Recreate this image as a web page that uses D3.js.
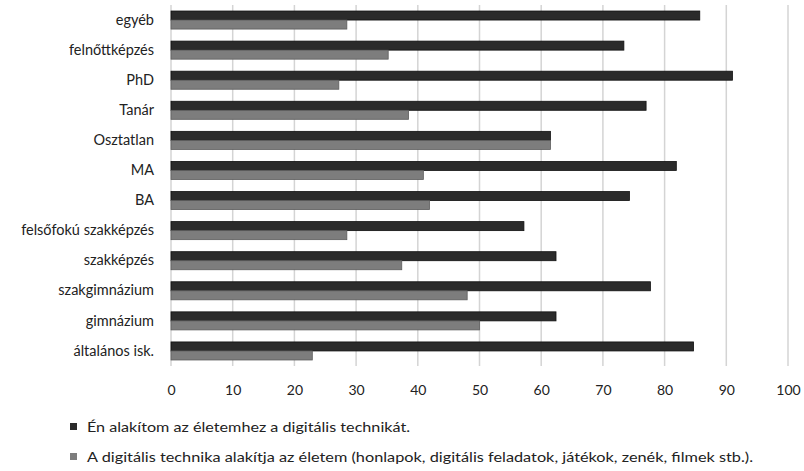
<!DOCTYPE html>
<html>
<head>
<meta charset="utf-8">
<script src="https://cdn.jsdelivr.net/npm/d3@7/dist/d3.min.js"></script>
<style>
  html, body { margin: 0; padding: 0; background: #fff; }
  svg { display: block; font-family: Lato, "Open Sans", sans-serif; }
</style>
</head>
<body>
<svg id="chart" width="804" height="471"></svg>
<script>
// Education levels, top to bottom
const categories = [
  "egyéb", "felnőttképzés", "PhD", "Tanár", "Osztatlan", "MA", "BA",
  "felsőfokú szakképzés", "szakképzés", "szakgimnázium", "gimnázium", "általános isk."
];
// "Én alakítom az életemhez a digitális technikát." (%)
const shapeTech = [85.7, 73.4, 91.0, 77.0, 61.5, 81.9, 74.3, 57.2, 62.4, 77.7, 62.4, 84.7];
// "A digitális technika alakítja az életem ..." (%)
const shapedByTech = [28.5, 35.2, 27.2, 38.5, 61.5, 40.9, 41.9, 28.5, 37.4, 48.0, 50.0, 22.9];
const xTicks = [0, 10, 20, 30, 40, 50, 60, 70, 80, 90, 100];
const seriesNames = [
  "Én alakítom az életemhez a digitális technikát.",
  "A digitális technika alakítja az életem (honlapok, digitális feladatok, játékok, zenék, filmek stb.)."
];
const seriesColors = ["#2b2b2b", "#7d7d7d"];
const seriesStroke = ["#111111", "#5c5c5c"];

const svg = d3.select("#chart");
const plot = { left: 171, right: 788, top: 5, bottom: 366 };
const textColor = "#222";

const x = d3.scaleLinear().domain([0, 100]).range([plot.left, plot.right]);
const y = d3.scaleBand().domain(categories).range([plot.top, plot.bottom])
  .paddingInner(0.4).paddingOuter(0.2);
const sub = d3.scaleBand().domain([0, 1]).range([0, y.bandwidth()]);

// vertical gridlines
svg.append("g")
  .selectAll("line")
  .data(xTicks)
  .join("line")
  .attr("x1", d => x(d)).attr("x2", d => x(d))
  .attr("y1", plot.top).attr("y2", plot.bottom)
  .attr("stroke", "#d4d4d4").attr("stroke-width", 1.5);

// bars
const series = [shapeTech, shapedByTech];
series.forEach((vals, si) => {
  svg.append("g")
    .selectAll("rect")
    .data(categories)
    .join("rect")
    .attr("x", x(0))
    .attr("y", (c) => y(c) + sub(si))
    .attr("width", (c, i) => x(vals[i]) - x(0))
    .attr("height", sub.bandwidth())
    .attr("fill", seriesColors[si])
    .attr("stroke", seriesStroke[si])
    .attr("stroke-width", 0.8);
});

// category labels
const yAxis = d3.axisLeft(y).tickSize(0).tickPadding(0);
const gy = svg.append("g").attr("transform", `translate(${plot.left - 17},0)`).call(yAxis);
gy.select(".domain").remove();
gy.selectAll("text")
  .attr("font-size", 14.5)
  .attr("font-family", "Lato, sans-serif")
  .attr("fill", textColor);

// value axis labels
const xAxis = d3.axisBottom(x).tickValues(xTicks).tickSize(0).tickPadding(0);
const gx = svg.append("g").attr("transform", `translate(0,${plot.bottom + 19})`).call(xAxis);
gx.select(".domain").remove();
gx.selectAll("text")
  .attr("font-size", 14)
  .attr("font-family", "Lato, sans-serif")
  .attr("fill", textColor);

// legend
const legendRows = [
  { y: 427, width: 323 },
  { y: 457, width: 666 }
];
const legend = svg.append("g");
seriesNames.forEach((name, i) => {
  const row = legendRows[i];
  legend.append("rect")
    .attr("x", 70).attr("y", row.y - 4)
    .attr("width", 7).attr("height", 7)
    .attr("fill", seriesColors[i]);
  legend.append("text")
    .attr("x", 87).attr("y", row.y)
    .attr("dy", "0.35em")
    .attr("font-size", 13.5)
    .attr("font-family", "Lato, sans-serif")
    .attr("fill", textColor)
    .attr("textLength", row.width)
    .attr("lengthAdjust", "spacingAndGlyphs")
    .text(name);
});
</script>
</body>
</html>
